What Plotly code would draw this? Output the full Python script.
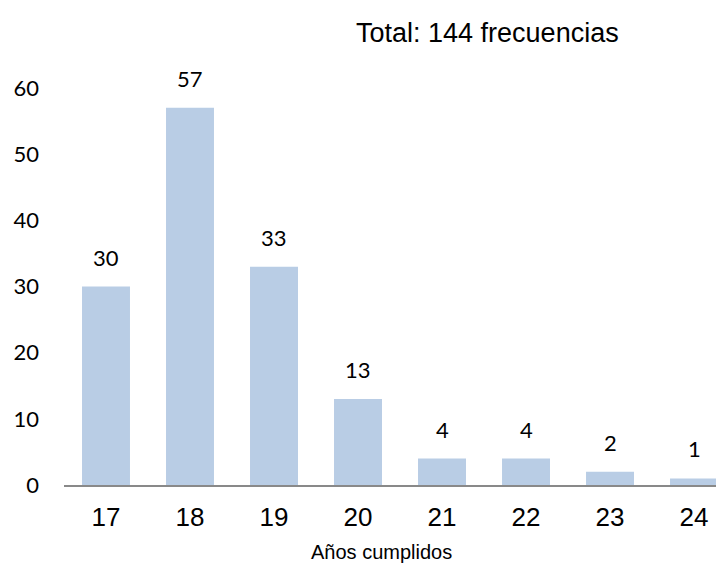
import plotly.graph_objects as go

categories = ["17", "18", "19", "20", "21", "22", "23", "24"]
values = [30, 57, 33, 13, 4, 4, 2, 1]
title_text = "Total: 144 frecuencias"
x_title = "Años cumplidos"
y_ticks = [0, 10, 20, 30, 40, 50, 60]

bar_color = "#b9cde5"

fig = go.Figure()
fig.add_trace(go.Bar(
    x=categories, y=values, marker=dict(color=bar_color, line=dict(width=0)),
    width=0.571, showlegend=False, hoverinfo="skip",
))

for i, v in enumerate(values):
    fig.add_annotation(x=i, y=v, text=str(v), showarrow=False, yanchor="bottom",
                       yshift=14, font=dict(family="Lato", size=22, color="black"))

fig.add_annotation(xref="paper", yref="paper", x=0.6417, y=1.1385, text=title_text,
                   showarrow=False, xanchor="center", yanchor="middle",
                   font=dict(family="Liberation Sans, Arial", size=27, color="black"))
fig.add_annotation(xref="paper", yref="paper", x=0.4818, y=-0.169, text=x_title,
                   showarrow=False, xanchor="center", yanchor="middle",
                   font=dict(family="Liberation Sans, Arial", size=20, color="black"))

fig.update_layout(
    width=716, height=557,
    margin=dict(l=56, r=0, t=80, b=80),
    paper_bgcolor="white", plot_bgcolor="white",
    xaxis=dict(type="category", range=[-0.5, 7.357], showline=True, linecolor="#898989",
               linewidth=2, ticks="", showgrid=False, zeroline=False,
               tickfont=dict(family="Liberation Sans, Arial", size=26, color="black"),
               ticklabelstandoff=8),
    yaxis=dict(range=[0, 60], tickvals=y_ticks, showgrid=False, zeroline=False,
               showline=False, ticks="",
               tickfont=dict(family="Lato", size=22, color="black"),
               ticklabelstandoff=24),
)

fig.write_html("out.html")
